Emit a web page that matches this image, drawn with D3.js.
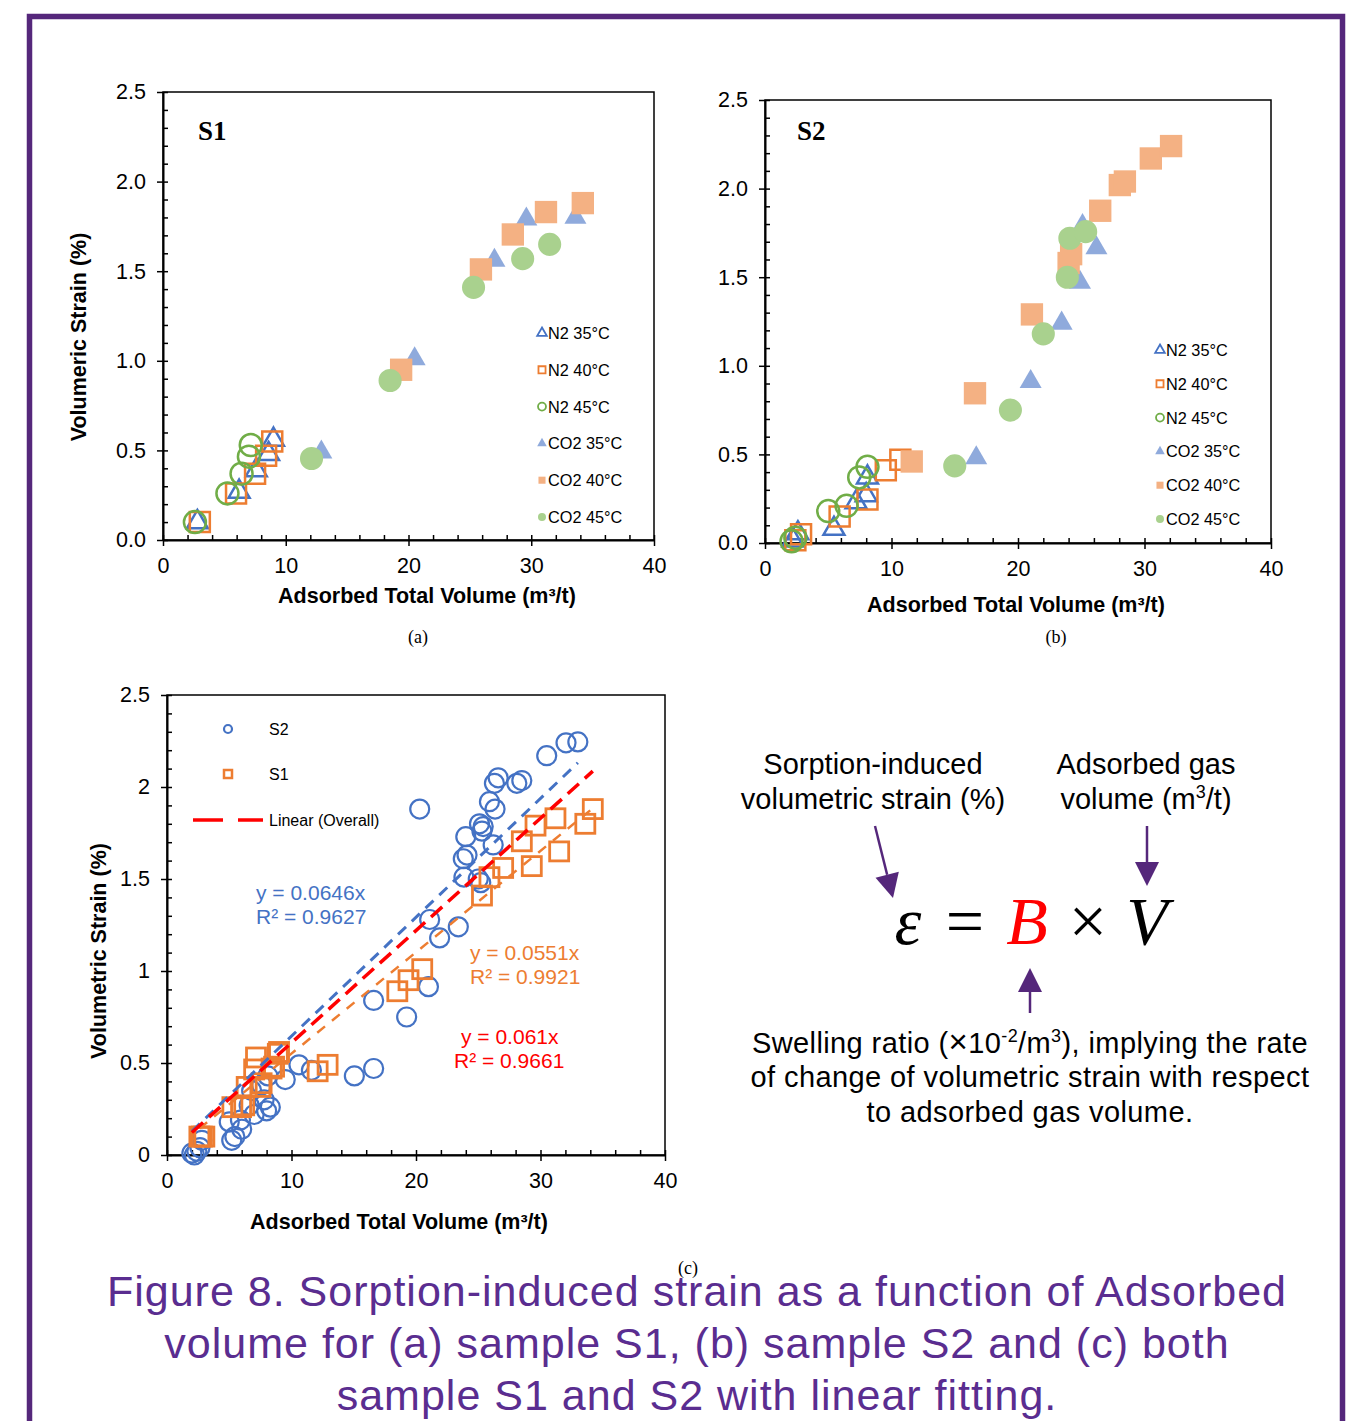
<!DOCTYPE html>
<html>
<head>
<meta charset="utf-8">
<script src="https://cdn.jsdelivr.net/npm/d3@7"></script>
<style>
  body { margin: 0; background: #fff; }
  svg { font-family: Arial, "Liberation Sans", sans-serif; }
</style>
</head>
<body>
<script>
// ---- data ----
const seriesNames = ["N2 35°C", "N2 40°C", "N2 45°C", "CO2 35°C", "CO2 40°C", "CO2 45°C"];

// (a) sample S1, [volume, strain]
const s1_n2_35  = [[2.8,0.10],[6.2,0.27],[7.6,0.39],[8.6,0.48],[9.0,0.56]];
const s1_n2_40  = [[3.0,0.10],[5.95,0.26],[7.5,0.37],[8.4,0.47],[8.9,0.55]];
const s1_n2_45  = [[2.6,0.10],[5.25,0.26],[6.4,0.37],[7.0,0.465],[7.15,0.53]];
const s1_co2_35 = [[12.9,0.49],[20.5,1.01],[27.0,1.56],[29.6,1.79],[33.6,1.80]];
const s1_co2_40 = [[19.4,0.95],[25.9,1.51],[28.5,1.705],[31.2,1.83],[34.2,1.88]];
const s1_co2_45 = [[12.1,0.455],[18.5,0.89],[25.3,1.41],[29.3,1.57],[31.5,1.65]];

// (b) sample S2
const s2_n2_35  = [[2.2,0.015],[2.6,0.055],[5.45,0.08],[7.2,0.23],[8.0,0.27],[8.1,0.37]];
const s2_n2_40  = [[2.4,0.015],[2.85,0.05],[5.9,0.15],[8.1,0.245],[9.55,0.41],[10.7,0.47]];
const s2_n2_45  = [[2.1,0.01],[2.4,0.03],[5.0,0.18],[6.45,0.21],[7.45,0.37],[8.1,0.43]];
const s2_co2_35 = [[16.7,0.48],[21.0,0.91],[23.45,1.24],[24.9,1.47],[26.2,1.665],[25.1,1.79]];
const s2_co2_40 = [[11.6,0.46],[16.6,0.845],[21.1,1.29],[24.0,1.58],[24.2,1.63],[26.5,1.875],[28.05,2.02],[28.45,2.04],[30.5,2.17],[32.1,2.24]];
const s2_co2_45 = [[15.0,0.435],[19.4,0.75],[22.0,1.18],[23.9,1.50],[24.1,1.72],[25.35,1.757]];

// (c) both samples
const c_s1 = [].concat(s1_n2_35, s1_n2_40, s1_n2_45, s1_co2_35, s1_co2_40, s1_co2_45);
const c_s2 = [[2.0,0.01],[2.2,0.0],[2.4,0.02],[2.65,0.04],[2.8,0.08],[5.2,0.08],[5.45,0.10],[6.0,0.14],
  [5.0,0.18],[5.9,0.19],[6.6,0.27],[7.0,0.22],[8.0,0.24],[8.3,0.26],[7.8,0.30],[6.8,0.35],[7.6,0.38],
  [8.1,0.43],[9.5,0.41],[10.6,0.49],[11.6,0.46],[15.05,0.43],[16.6,0.47],[16.6,0.84],[19.25,0.75],
  [21.0,0.915],[21.1,1.28],[21.9,1.18],[23.4,1.24],[20.3,1.88],[23.85,1.51],[25.0,1.50],[25.2,1.48],
  [23.8,1.61],[24.1,1.63],[24.0,1.73],[26.2,1.685],[25.1,1.80],[25.4,1.785],[25.3,1.76],[25.9,1.92],
  [26.35,1.88],[26.3,2.02],[26.6,2.05],[28.1,2.02],[28.5,2.035],[30.5,2.17],[32.05,2.24],[33.0,2.245]];

const fitSlopes = {S2: 0.0646, S1: 0.0551, Overall: 0.061};
const fitLabels = {S2: ["y = 0.0646x", "R² = 0.9627"], S1: ["y = 0.0551x", "R² = 0.9921"], Overall: ["y = 0.061x", "R² = 0.9661"]};

const xTicks = [0, 10, 20, 30, 40];
const yTicks = [0, 0.5, 1, 1.5, 2, 2.5];

// ---- styles ----
const purple = "#55277b";
const serif = "'Liberation Serif', 'Times New Roman', serif";
const styles = [
  {shape: d3.symbolTriangle, fill: "none", stroke: "#4472c4", size: 190},
  {shape: d3.symbolSquare, fill: "none", stroke: "#ed7d31", size: 400},
  {shape: d3.symbolCircle, fill: "none", stroke: "#70ad47", size: 380},
  {shape: d3.symbolTriangle, fill: "#8faadc", stroke: "none", size: 210},
  {shape: d3.symbolSquare, fill: "#f4b183", stroke: "none", size: 500},
  {shape: d3.symbolCircle, fill: "#a9d18e", stroke: "none", size: 420}
];

const svg = d3.select("body").append("svg").attr("width", 1366).attr("height", 1421);

// outer purple frame
svg.append("rect")
  .attr("x", 29.5).attr("y", 16.5).attr("width", 1313).attr("height", 1440)
  .attr("fill", "none").attr("stroke", purple).attr("stroke-width", 5.5);

function makePanel(p) {
  const g = svg.append("g");
  const x = d3.scaleLinear().domain([0, 40]).range([p.x0, p.x1]);
  const y = d3.scaleLinear().domain([0, 2.5]).range([p.y0, p.y1]);

  g.append("rect")
    .attr("x", p.x0).attr("y", p.y1).attr("width", p.x1 - p.x0).attr("height", p.y0 - p.y1)
    .attr("fill", "none").attr("stroke", "#000").attr("stroke-width", 1.5);

  // minor ticks (inside)
  g.append("g").attr("transform", `translate(0,${p.y0})`)
    .call(d3.axisBottom(x).tickValues(d3.range(0, 41, 2)).tickSize(-5).tickFormat(""))
    .call(a => a.select(".domain").remove())
    .selectAll("line").attr("stroke-width", 1.5);
  g.append("g").attr("transform", `translate(${p.x0},0)`)
    .call(d3.axisLeft(y).tickValues(d3.range(0, 2.51, 0.1)).tickSize(-5).tickFormat(""))
    .call(a => a.select(".domain").remove())
    .selectAll("line").attr("stroke-width", 1.5);

  const xa = g.append("g").attr("transform", `translate(0,${p.y0})`)
    .call(d3.axisBottom(x).tickValues(xTicks).tickSize(6).tickPadding(12).tickSizeOuter(0));
  const ya = g.append("g").attr("transform", `translate(${p.x0},0)`)
    .call(d3.axisLeft(y).tickValues(yTicks).tickSize(6).tickPadding(11).tickSizeOuter(0)
      .tickFormat(p.yfmt));
  [xa, ya].forEach(a => {
    a.select(".domain").attr("stroke-width", 2);
    a.selectAll("line").attr("stroke-width", 1.5);
    a.selectAll("text").attr("font-size", 21.5).attr("font-family", null).attr("fill", "#000");
  });

  g.append("text").attr("x", p.xtX).attr("y", p.y0 + p.xtDy)
    .attr("text-anchor", "middle").attr("font-size", 21.5).attr("font-weight", "bold")
    .text("Adsorbed Total Volume (m³/t)");
  if (p.ytitle) {
    g.append("text")
      .attr("transform", `translate(${p.ytX},${p.ytY}) rotate(-90)`)
      .attr("text-anchor", "middle").attr("font-size", 21.5).attr("font-weight", "bold")
      .text(p.ytitle);
  }
  return {g, x, y};
}

function drawPointsAB(pn, sets) {
  sets.forEach((data, i) => {
    const st = styles[i];
    pn.g.append("g").selectAll("path").data(data).join("path")
      .attr("transform", d => `translate(${pn.x(d[0])},${pn.y(d[1])})`)
      .attr("d", d3.symbol().type(st.shape).size(st.size))
      .attr("fill", st.fill).attr("stroke", st.stroke).attr("stroke-width", 2.5);
  });
}

function legendAB(pn, lx, ly, step) {
  const lg = pn.g.append("g");
  seriesNames.forEach((name, i) => {
    const st = styles[i];
    const yy = ly + i * step;
    lg.append("path").attr("transform", `translate(${lx},${yy})`)
      .attr("d", d3.symbol().type(st.shape).size(st.shape === d3.symbolTriangle ? 40 : 50))
      .attr("fill", st.fill).attr("stroke", st.stroke).attr("stroke-width", 1.8);
    lg.append("text").attr("x", lx + 6).attr("y", yy + 6).attr("font-size", 16.3).text(name);
  });
}

function serifText(x, y, size, txt, bold) {
  return svg.append("text").attr("x", x).attr("y", y)
    .style("font-family", serif).style("font-weight", bold ? "bold" : "normal")
    .attr("font-size", size).text(txt);
}

// ---- panel (a) ----
const pa = makePanel({x0: 163, x1: 654, y0: 540, y1: 92, xtX: 427, xtDy: 63,
  ytitle: "Volumeric Strain (%)", ytX: 86, ytY: 337, yfmt: d3.format(".1f")});
drawPointsAB(pa, [s1_n2_35, s1_n2_40, s1_n2_45, s1_co2_35, s1_co2_40, s1_co2_45]);
legendAB(pa, 542, 333, 36.8);
serifText(198, 140, 27, "S1", true);
serifText(418, 643, 18, "(a)").attr("text-anchor", "middle");

// ---- panel (b) ----
const pb = makePanel({x0: 765, x1: 1271, y0: 543, y1: 100, xtX: 1016, xtDy: 69, ytitle: null, yfmt: d3.format(".1f")});
drawPointsAB(pb, [s2_n2_35, s2_n2_40, s2_n2_45, s2_co2_35, s2_co2_40, s2_co2_45]);
legendAB(pb, 1160, 350, 33.8);
serifText(797, 140, 27, "S2", true);
serifText(1056, 643, 18, "(b)").attr("text-anchor", "middle");

// ---- panel (c) ----
const pc = makePanel({x0: 167, x1: 665, y0: 1155, y1: 695, xtX: 399, xtDy: 74,
  ytitle: "Volumetric Strain (%)", ytX: 106, ytY: 951, yfmt: d => String(d)});

pc.g.append("g").selectAll("circle").data(c_s2).join("circle")
  .attr("cx", d => pc.x(d[0])).attr("cy", d => pc.y(d[1])).attr("r", 9.5)
  .attr("fill", "none").attr("stroke", "#4472c4").attr("stroke-width", 2.2);
pc.g.append("g").selectAll("rect").data(c_s1).join("rect")
  .attr("x", d => pc.x(d[0]) - 9.5).attr("y", d => pc.y(d[1]) - 9.5)
  .attr("width", 19).attr("height", 19)
  .attr("fill", "none").attr("stroke", "#ed7d31").attr("stroke-width", 2.8);

function fitLine(data, slope, color, dash, w) {
  const ext = d3.extent(data, d => d[0]);
  const line = d3.line().x(d => pc.x(d)).y(d => pc.y(slope * d));
  pc.g.append("path").datum(ext).attr("d", line)
    .attr("fill", "none").attr("stroke", color).attr("stroke-width", w)
    .attr("stroke-dasharray", dash);
}
fitLine(c_s2, fitSlopes.S2, "#4472c4", "11,8", 3);
fitLine(c_s1, fitSlopes.S1, "#ed7d31", "10,9", 2.5);
fitLine(c_s1.concat(c_s2), fitSlopes.Overall, "#ff0000", "15,8", 3.5);

// fit labels
[["S2", "#4472c4", 256, 900], ["S1", "#ed7d31", 470, 960], ["Overall", "#ff0000", 460, 1044]].forEach(([k, col, lx, ly]) => {
  const t = pc.g.append("text").attr("font-size", 21).attr("fill", col);
  t.append("tspan").attr("x", k === "Overall" ? lx + 1 : lx).attr("y", ly).text(fitLabels[k][0]);
  t.append("tspan").attr("x", k === "Overall" ? lx - 6 : lx).attr("y", ly + 24).text(fitLabels[k][1]);
});

// legend (c)
const lc = pc.g.append("g");
lc.append("circle").attr("cx", 228).attr("cy", 729).attr("r", 4).attr("fill", "none").attr("stroke", "#4472c4").attr("stroke-width", 2.2);
lc.append("text").attr("x", 269).attr("y", 735).attr("font-size", 16).text("S2");
lc.append("rect").attr("x", 224).attr("y", 770).attr("width", 8).attr("height", 8).attr("fill", "none").attr("stroke", "#ed7d31").attr("stroke-width", 2.5);
lc.append("text").attr("x", 269).attr("y", 780).attr("font-size", 16).text("S1");
lc.append("line").attr("x1", 193).attr("x2", 263).attr("y1", 820).attr("y2", 820)
  .attr("stroke", "#ff0000").attr("stroke-width", 3.5).attr("stroke-dasharray", "30,15");
lc.append("text").attr("x", 269).attr("y", 826).attr("font-size", 16).text("Linear (Overall)");

serifText(688, 1274, 18, "(c)").attr("text-anchor", "middle");

// ---- equation annotation ----
const eq = svg.append("g");
function arrow(x1, y1, x2, y2) {
  const ang = Math.atan2(y2 - y1, x2 - x1);
  const hl = 24, hw = 12;
  const bx = x2 - hl * Math.cos(ang), by = y2 - hl * Math.sin(ang);
  eq.append("line").attr("x1", x1).attr("y1", y1).attr("x2", bx).attr("y2", by)
    .attr("stroke", purple).attr("stroke-width", 2.5);
  eq.append("path")
    .attr("d", `M${x2},${y2} L${bx + hw * Math.sin(ang)},${by - hw * Math.cos(ang)} L${bx - hw * Math.sin(ang)},${by + hw * Math.cos(ang)} Z`)
    .attr("fill", purple);
}
arrow(875, 826, 893, 898);
arrow(1147, 826, 1147, 886);
arrow(1030, 1013, 1030, 968);

const labelFont = 29;
[["Sorption-induced", 873, 774], ["volumetric strain (%)", 873, 809], ["Adsorbed gas", 1146, 774]].forEach(([t, x, y]) => {
  eq.append("text").attr("x", x).attr("y", y).attr("text-anchor", "middle").attr("font-size", labelFont).text(t);
});
const vt = eq.append("text").attr("x", 1146).attr("y", 809).attr("text-anchor", "middle").attr("font-size", labelFont);
vt.append("tspan").text("volume (m");
vt.append("tspan").attr("font-size", 18).attr("dy", -11).text("3");
vt.append("tspan").attr("dy", 11).text("/t)");

// equation glyphs placed individually
const eqParts = [
  {t: "ε", cx: 908, italic: true, col: "#000"},
  {t: "=", cx: 965, italic: false, col: "#000"},
  {t: "B", cx: 1027, italic: true, col: "#ff0000"},
  {t: "×", cx: 1088, italic: false, col: "#000"},
  {t: "V", cx: 1147, italic: true, col: "#000"}
];
eq.append("g").selectAll("text").data(eqParts).join("text")
  .attr("x", d => d.cx).attr("y", 944).attr("text-anchor", "middle")
  .style("font-family", serif).attr("font-size", 68)
  .attr("font-style", d => d.italic ? "italic" : "normal")
  .attr("fill", d => d.col).text(d => d.t);

const sw = eq.append("text").attr("x", 1030).attr("y", 1053).attr("text-anchor", "middle")
  .attr("font-size", labelFont).attr("letter-spacing", 0.4);
sw.append("tspan").text("Swelling ratio (");
sw.append("tspan").text("×").attr("font-size", 33);
sw.append("tspan").text("10");
sw.append("tspan").attr("font-size", 18).attr("dy", -11).text("-2");
sw.append("tspan").attr("dy", 11).text("/m");
sw.append("tspan").attr("font-size", 18).attr("dy", -11).text("3");
sw.append("tspan").attr("dy", 11).text("), implying the rate");
eq.append("text").attr("x", 1030).attr("y", 1087).attr("text-anchor", "middle").attr("font-size", labelFont)
  .attr("letter-spacing", 0.4).text("of change of volumetric strain with respect");
eq.append("text").attr("x", 1030).attr("y", 1122).attr("text-anchor", "middle").attr("font-size", labelFont)
  .attr("letter-spacing", 0.4).text("to adsorbed gas volume.");

// ---- caption ----
const captionLines = [
  "Figure 8. Sorption-induced strain as a function of Adsorbed",
  "volume for (a) sample S1, (b) sample S2 and (c) both",
  "sample S1 and S2 with linear fitting."
];
svg.append("g").selectAll("text").data(captionLines).join("text")
  .attr("x", 697).attr("y", (d, i) => 1306 + i * 52)
  .attr("text-anchor", "middle").attr("font-size", 43).attr("letter-spacing", 1)
  .attr("fill", "#5a2d90")
  .text(d => d);
</script>
</body>
</html>
